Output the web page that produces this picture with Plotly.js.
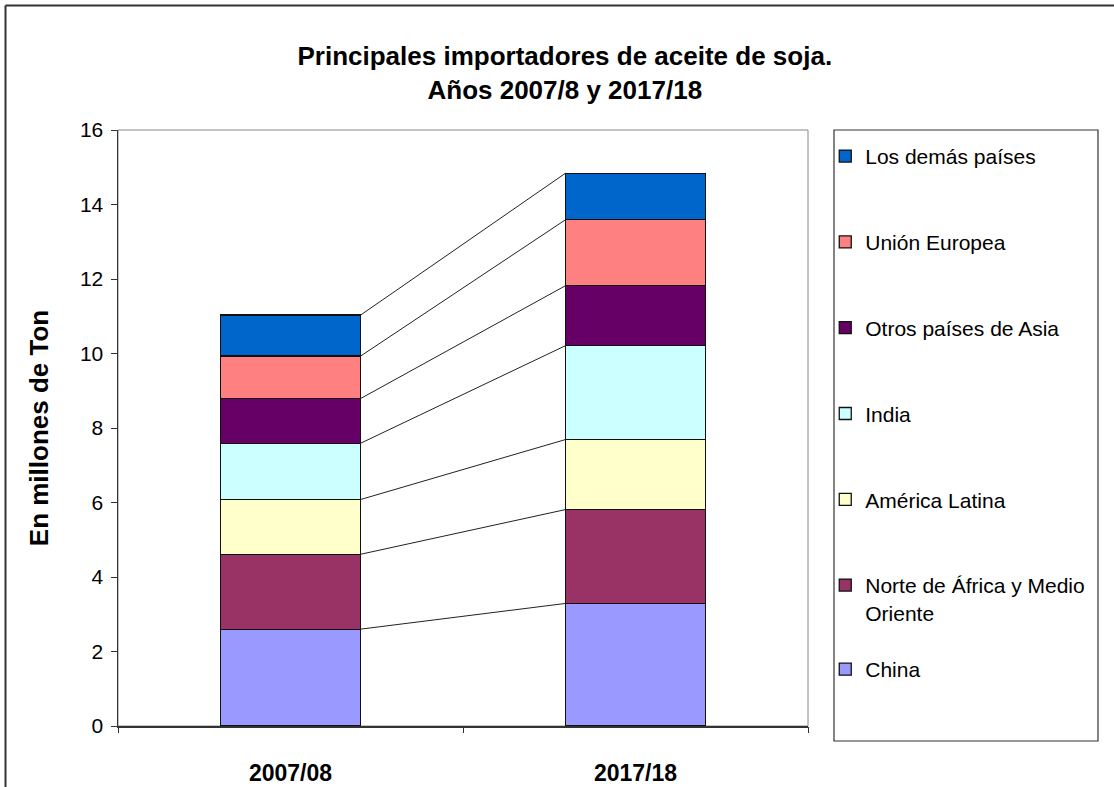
<!DOCTYPE html>
<html>
<head>
<meta charset="utf-8">
<script src="https://cdn.plot.ly/plotly-3.0.1.min.js"></script>
<style>html,body{margin:0;padding:0;background:#fff;}#chart{width:1114px;height:787px;}</style>
</head>
<body>
<div id="chart"></div>
<script>
const categories = ["2007/08", "2017/18"];
const seriesNames = ["China", "Norte de África y Medio<br>Oriente", "América Latina", "India", "Otros países de Asia", "Unión Europea", "Los demás países"];
const china = [2.60, 3.29];
const norteAfrica = [2.01, 2.52];
const americaLatina = [1.47, 1.88];
const india = [1.51, 2.52];
const otrosAsia = [1.20, 1.61];
const unionEuropea = [1.14, 1.77];
const losDemas = [1.10, 1.25];
const seriesValues = [china, norteAfrica, americaLatina, india, otrosAsia, unionEuropea, losDemas];
const colors = ["#9999FF", "#993366", "#FFFFCC", "#CCFFFF", "#660066", "#FF8080", "#0066CC"];
const yTickVals = [0, 2, 4, 6, 8, 10, 12, 14, 16];

const BAR_W = 0.406;
const xPos = categories.map((c, i) => i);
const traces = [];
seriesValues.forEach((vals, k) => {
  traces.push({
    type: "bar",
    x: xPos,
    y: vals,
    width: BAR_W,
    name: seriesNames[k],
    legendgroup: "g" + k,
    legendrank: 100 - k,
    legend: k === 0 ? "legend2" : "legend",
    marker: {color: colors[k], line: {color: "#111", width: 1.3}},
    hoverinfo: "skip"
  });
});
// connector lines between stacked segment tops
const cum = [0, 0];
const lx = [], ly = [];
seriesValues.forEach(vals => {
  cum[0] += vals[0]; cum[1] += vals[1];
  lx.push(xPos[0] + BAR_W / 2, xPos[1] - BAR_W / 2, null);
  ly.push(cum[0], cum[1], null);
});
traces.push({type: "scatter", mode: "lines", x: lx, y: ly, showlegend: false,
  line: {color: "#222", width: 1}, hoverinfo: "skip", cliponaxis: false});
// dummy trace for boundary ticks on overlay axis
traces.push({type: "scatter", mode: "markers", x: [-0.5, 1.5], y: [0, 0], xaxis: "x2",
  marker: {opacity: 0}, showlegend: false, hoverinfo: "skip"});

const font = "Liberation Sans, Arial, sans-serif";
const legendCommon = {x: 1.025, xanchor: "left", yanchor: "top", traceorder: "grouped",
  tracegroupgap: 55.5, valign: "top", bgcolor: "rgba(0,0,0,0)", borderwidth: 0,
  font: {family: font, size: 21, color: "#000"}, itemclick: false, itemdoubleclick: false};
const layout = {
  width: 1114, height: 787,
  paper_bgcolor: "#fff", plot_bgcolor: "#fff",
  margin: {l: 118, r: 306, t: 130, b: 61},
  barmode: "stack",
  bargap: 0,
  title: {text: "<b>Principales importadores de aceite de soja.<br>Años 2007/8 y 2017/18</b>",
    x: 0.507, xanchor: "center", y: 0.9168, yanchor: "middle", yref: "container",
    font: {family: font, size: 26, color: "#000"}},
  xaxis: {range: [-0.5, 1.5], tickvals: xPos, ticktext: categories, ticks: "",
    showgrid: false, zeroline: false, showline: true, linecolor: "#333", linewidth: 1.5,
    tickfont: {family: font, size: 23, color: "#000", weight: "bold"}, ticklabelstandoff: 26,
    fixedrange: true},
  xaxis2: {overlaying: "x", range: [-0.5, 1.5], tickvals: [-0.5, 0.5, 1.5], ticks: "outside",
    ticklen: 6, tickcolor: "#333", showticklabels: false, showgrid: false, zeroline: false,
    showline: false, side: "bottom"},
  yaxis: {range: [0, 16], tickvals: yTickVals, ticks: "outside", ticklen: 6, tickcolor: "#333",
    showgrid: false, zeroline: false, showline: true, linecolor: "#333", linewidth: 1.5,
    tickfont: {family: font, size: 21, color: "#000"}, ticklabelstandoff: 3,
    title: {text: "<b>En millones de Ton</b>", font: {family: font, size: 26, color: "#000"}, standoff: 24}},
  showlegend: true,
  legend: Object.assign({}, legendCommon, {y: 0.99}),
  legend2: Object.assign({}, legendCommon, {y: (726 - 649) / 596}),
  shapes: [
    {type: "rect", xref: "paper", yref: "paper", x0: 0, x1: 1, y0: 0, y1: 1,
      line: {color: "#888", width: 1}, layer: "below"},
    {type: "rect", xref: "paper", yref: "paper", x0: (834 - 118) / 690, x1: (1098 - 118) / 690,
      y0: (726 - 741) / 596, y1: 1, line: {color: "#333", width: 1.2}, layer: "below"},
    {type: "line", xref: "paper", yref: "paper", x0: (5.5 - 118) / 690, x1: (1120 - 118) / 690,
      y0: (726 - 5.5) / 596, y1: (726 - 5.5) / 596, line: {color: "#333", width: 2}},
    {type: "line", xref: "paper", yref: "paper", x0: (5.5 - 118) / 690, x1: (5.5 - 118) / 690,
      y0: (726 - 5.5) / 596, y1: (726 - 800) / 596, line: {color: "#333", width: 2}}
  ]
};
Plotly.newPlot("chart", traces, layout, {displayModeBar: false, staticPlot: true});
</script>
</body>
</html>
